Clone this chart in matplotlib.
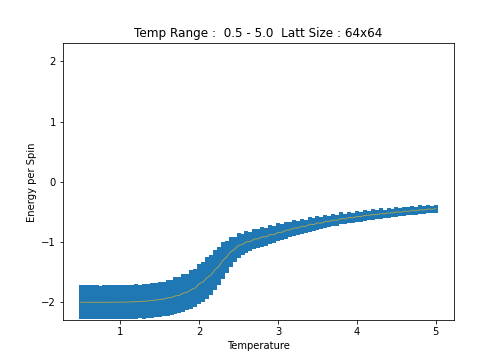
import numpy as np
from matplotlib import pyplot as plt

# температуры
temps = np.linspace(0.5, 5.0, 91)

# средняя энергия на спин
energy = [
    -2.000, -2.000, -2.000, -2.000, -2.000, -2.000, -2.000, -1.999, -1.999, -1.998,
    -1.998, -1.996, -1.995, -1.993, -1.989, -1.987, -1.982, -1.979, -1.969, -1.964,
    -1.952, -1.946, -1.927, -1.919, -1.893, -1.884, -1.846, -1.832, -1.788, -1.762,
    -1.694, -1.661, -1.592, -1.548, -1.462, -1.402, -1.306, -1.246, -1.162, -1.118,
    -1.056, -1.038, -0.996, -0.990, -0.950, -0.946, -0.912, -0.914, -0.874, -0.878,
    -0.840, -0.838, -0.806, -0.798, -0.768, -0.766, -0.738, -0.741, -0.705, -0.709,
    -0.684, -0.685, -0.658, -0.656, -0.637, -0.639, -0.608, -0.617, -0.591, -0.596,
    -0.574, -0.578, -0.557, -0.557, -0.543, -0.546, -0.526, -0.533, -0.514, -0.517,
    -0.499, -0.506, -0.489, -0.492, -0.475, -0.482, -0.463, -0.468, -0.452, -0.457,
    -0.446,
]

# разброс энергии
spread = [
    0.280, 0.280, 0.280, 0.281, 0.280, 0.279, 0.281, 0.280, 0.282, 0.279,
    0.281, 0.278, 0.283, 0.279, 0.285, 0.280, 0.288, 0.282, 0.292, 0.284,
    0.296, 0.287, 0.301, 0.291, 0.306, 0.296, 0.313, 0.303, 0.321, 0.311,
    0.336, 0.326, 0.346, 0.330, 0.338, 0.312, 0.306, 0.262, 0.246, 0.207,
    0.201, 0.176, 0.181, 0.162, 0.172, 0.155, 0.164, 0.149, 0.157, 0.140,
    0.149, 0.131, 0.142, 0.126, 0.135, 0.119, 0.128, 0.114, 0.122, 0.107,
    0.116, 0.101, 0.110, 0.096, 0.104, 0.091, 0.100, 0.087, 0.095, 0.083,
    0.092, 0.081, 0.088, 0.078, 0.086, 0.075, 0.084, 0.073, 0.081, 0.071,
    0.079, 0.069, 0.077, 0.067, 0.076, 0.066, 0.074, 0.064, 0.073, 0.063,
    0.068,
]

plt.figure(figsize=(7, 5), dpi=72)
plt.errorbar(temps, energy, yerr=spread, fmt='none', ecolor='C0', elinewidth=4)
plt.plot(temps, energy, color='#9aa05a', linewidth=1)
plt.ylim(-2.3, 2.3)
plt.title('Temp Range :  0.5 - 5.0  Latt Size : 64x64')
plt.xlabel('Temperature')
plt.ylabel('Energy per Spin')
plt.savefig('out.png', dpi=72)
